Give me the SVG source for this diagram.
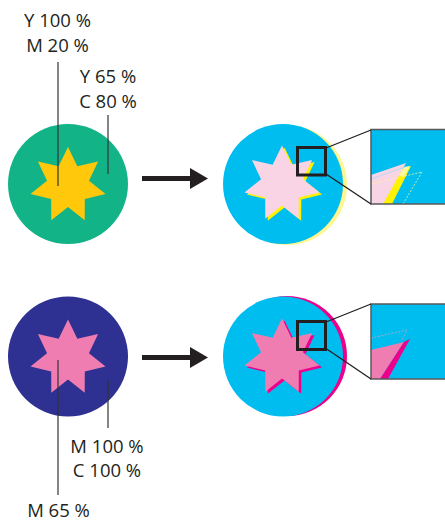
<svg xmlns="http://www.w3.org/2000/svg" xmlns:xlink="http://www.w3.org/1999/xlink" width="445" height="521" viewBox="0 0 445 521">
<style>
text{font-family:"Open Sans","Noto Sans","Liberation Sans",sans-serif;font-size:18.5px;fill:#231f20;text-anchor:middle}
.lead{stroke:#333;stroke-width:1.2;fill:none}
.arrow{fill:#231f20}
.callout{fill:none;stroke:#231f20;stroke-width:3}
.link{stroke:#231f20;stroke-width:1.3;fill:none}
.inset{stroke:#58595b;stroke-width:1.5}
</style>
<defs>
<polygon id="star" points="0,-38.5 9.33,-19.37 30.1,-24 20.96,-4.78 37.53,8.57 16.81,13.41 16.71,34.69 0,21.5 -16.71,34.69 -16.81,13.41 -37.53,8.57 -20.96,-4.78 -30.1,-24 -9.33,-19.37"/>
</defs>

<g id="top-original">
<circle cx="68" cy="184" r="60" fill="#13b388"/>
<use xlink:href="#star" x="68" y="185.5" fill="#ffc80b"/>
</g>

<g id="top-result">
<circle cx="287" cy="185" r="60" fill="#fff68f"/>
<circle cx="283" cy="184" r="60" fill="#00bdf0"/>
<use xlink:href="#star" x="284.5" y="186" fill="#fff200"/>
<use xlink:href="#star" x="282" y="184" fill="#f8d4e5"/>
</g>

<g id="bottom-original">
<circle cx="68" cy="356.5" r="60" fill="#2e3192"/>
<use xlink:href="#star" x="68" y="358" fill="#f07db1"/>
</g>

<g id="bottom-result">
<circle cx="287" cy="356" r="60" fill="#ec008c"/>
<circle cx="283" cy="356.5" r="60" fill="#00bdf0"/>
<use xlink:href="#star" x="284.5" y="359" fill="#ec008c"/>
<use xlink:href="#star" x="282" y="357" fill="#f07db1"/>
</g>

<g id="top-inset">
<rect x="371" y="129.5" width="76" height="74.5" fill="#00bdf0"/>
<polygon points="371,180 411,166 392,204 371,204" fill="#fff200"/>
<polygon points="371,175 406,163 383,204 371,204" fill="#f8d4e5"/>
<polygon points="404,167 410,166 404,177 399,175" fill="#fff7a0"/>
<polyline points="371,184 422,172 403,204" fill="none" stroke="#fff68f" stroke-width="0.8" stroke-dasharray="2,1.5"/>
<line x1="371" y1="179" x2="405" y2="167" stroke="#a6dcef" stroke-width="0.8"/>
<rect x="371" y="129.5" width="76" height="74.5" fill="none" class="inset"/>
</g>

<g id="bottom-inset">
<rect x="371" y="304" width="76" height="75" fill="#00bdf0"/>
<polygon points="371,350 404,342 380,379 371,379" fill="#f07db1"/>
<polygon points="404,342 410,339 388,379 380,379" fill="#ec008c"/>
<polyline points="371,338 407,330 402,340" fill="none" stroke="#c6a7c8" stroke-width="0.8" stroke-dasharray="2,1.5"/>
<rect x="371" y="304" width="76" height="75" fill="none" class="inset"/>
</g>

<g id="connectors">
<line class="lead" x1="58" y1="62" x2="58" y2="186"/>
<line class="lead" x1="108" y1="115" x2="108" y2="174"/>
<line class="lead" x1="58" y1="360" x2="58" y2="495"/>
<line class="lead" x1="108" y1="380" x2="108" y2="428"/>
<rect class="arrow" x="142" y="176" width="49" height="5"/>
<polygon class="arrow" points="190,168 208,178.5 190,189"/>
<rect class="arrow" x="142" y="355" width="49" height="5"/>
<polygon class="arrow" points="190,347 208,357.5 190,368"/>
<rect class="callout" x="297.5" y="147.5" width="28" height="27.5"/>
<line class="link" x1="326" y1="148" x2="371" y2="130"/>
<line class="link" x1="326" y1="174" x2="371" y2="204"/>
<rect class="callout" x="297.5" y="321.5" width="28" height="28"/>
<line class="link" x1="326" y1="322" x2="371" y2="304"/>
<line class="link" x1="326" y1="348.5" x2="371" y2="379"/>
</g>

<g id="labels">
<text x="57.5" y="27">Y 100 %</text>
<text x="57.5" y="52">M 20 %</text>
<text x="108" y="83">Y 65 %</text>
<text x="108" y="108">C 80 %</text>
<text x="107" y="453">M 100 %</text>
<text x="107" y="477">C 100 %</text>
<text x="58.5" y="517">M 65 %</text>
</g>
</svg>
